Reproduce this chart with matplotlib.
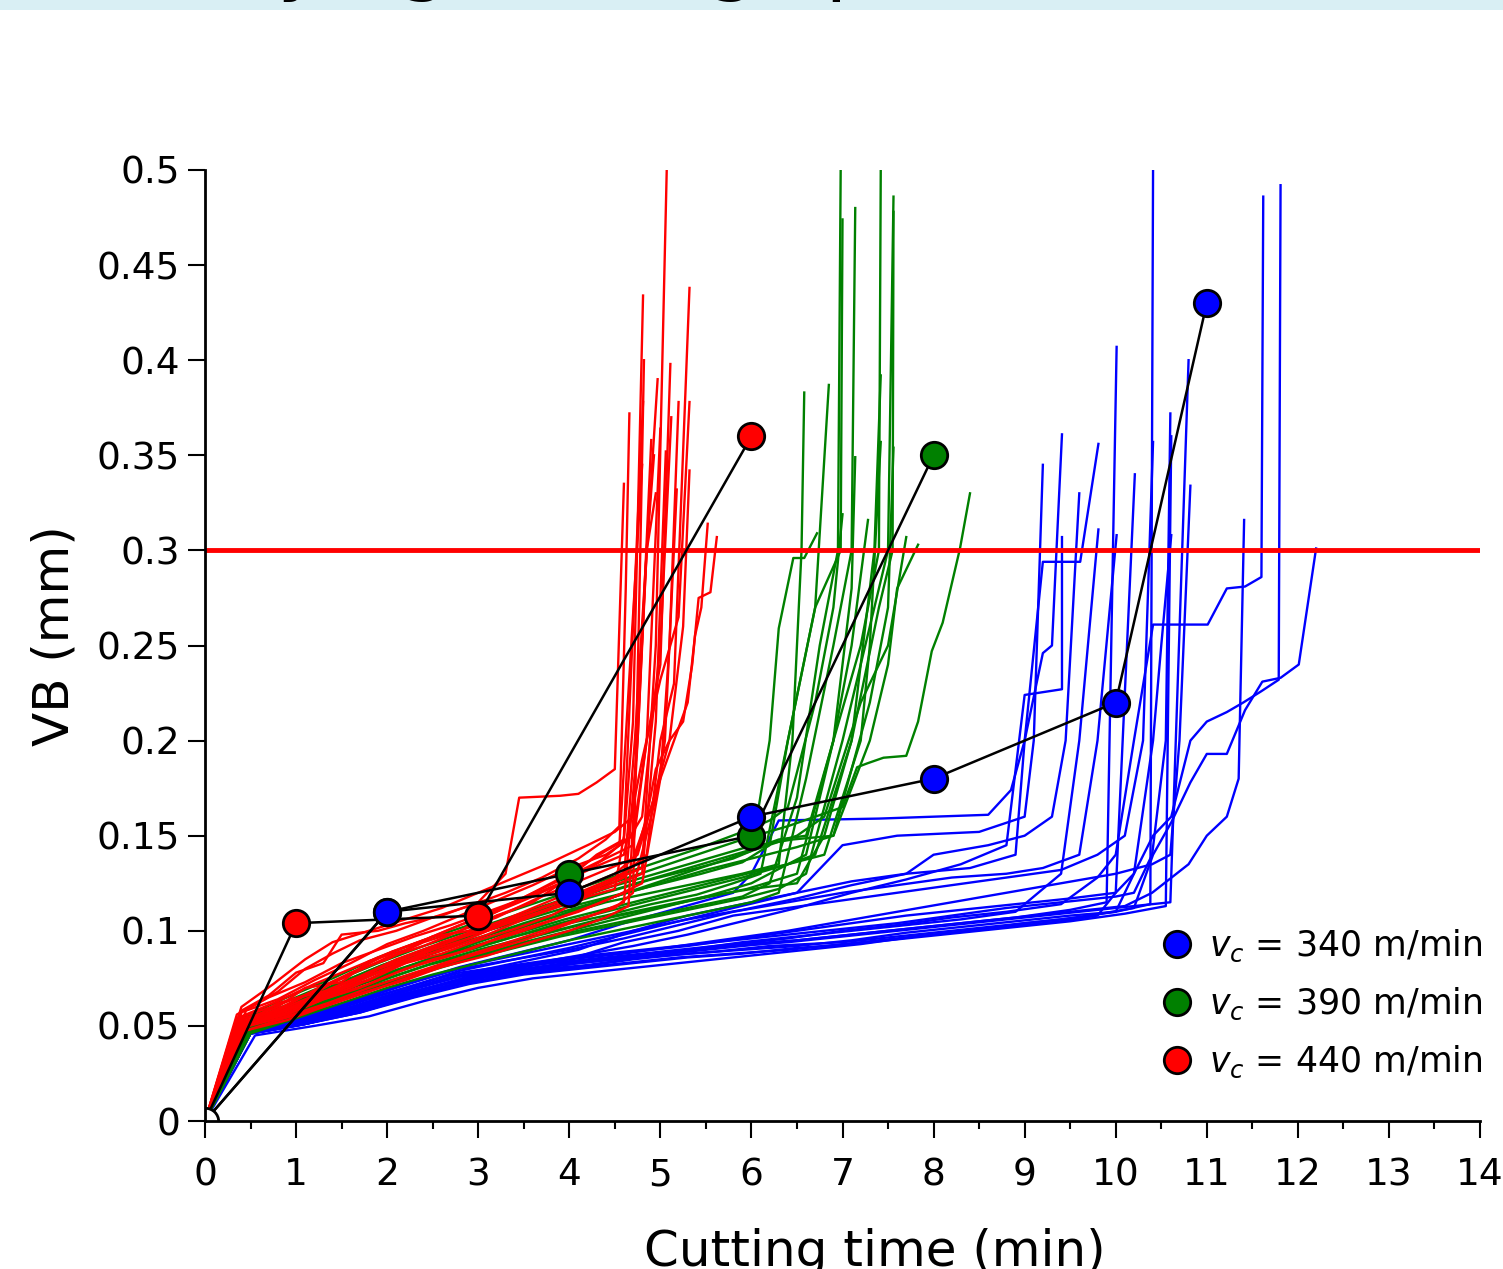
import matplotlib
matplotlib.use("Agg")
import matplotlib.pyplot as plt
from matplotlib.lines import Line2D
from matplotlib.patches import Rectangle

plt.rcParams['font.family'] = 'DejaVu Sans'
plt.rcParams['mathtext.fontset'] = 'dejavusans'

# Individual simulated wear trajectories, (time [min], VB [mm])
blue_paths = [
    [(0, 0), (0.5, 0.046), (1.1, 0.051), (1.7, 0.058), (2.3, 0.068), (2.9, 0.075), (3.5, 0.079), (4.2, 0.082), (4.8, 0.086), (5.6, 0.089), (6.2, 0.092), (7.0, 0.094), (7.6, 0.097), (8.2, 0.1), (8.8, 0.103), (9.4, 0.106), (10.0, 0.11), (10.38, 0.114), (10.41, 0.5)],
    [(0, 0), (0.45, 0.048), (1.0, 0.053), (1.6, 0.06), (2.2, 0.069), (2.8, 0.077), (3.4, 0.081), (4.0, 0.084), (4.6, 0.087), (5.2, 0.09), (5.8, 0.093), (6.4, 0.096), (7.0, 0.1), (7.6, 0.103), (8.2, 0.107), (8.8, 0.11), (9.4, 0.114), (9.8, 0.128), (10.0, 0.14), (10.2, 0.2), (10.41, 0.261), (11.01, 0.261), (11.22, 0.28), (11.42, 0.281), (11.6, 0.286), (11.62, 0.486)],
    [(0, 0), (0.5, 0.047), (1.1, 0.052), (1.7, 0.057), (2.3, 0.066), (2.9, 0.073), (3.5, 0.078), (4.1, 0.081), (4.7, 0.085), (5.3, 0.088), (5.9, 0.09), (6.5, 0.092), (7.1, 0.095), (7.7, 0.099), (8.3, 0.102), (8.9, 0.105), (9.5, 0.108), (10.0, 0.11), (10.2, 0.13), (10.41, 0.15), (10.61, 0.16), (10.82, 0.2), (11.0, 0.21), (11.22, 0.215), (11.4, 0.22), (11.6, 0.226), (11.79, 0.232), (11.81, 0.492)],
    [(0, 0), (0.55, 0.045), (1.2, 0.05), (1.8, 0.055), (2.4, 0.063), (3.0, 0.07), (3.6, 0.075), (4.2, 0.078), (4.8, 0.081), (5.4, 0.084), (6.0, 0.087), (6.6, 0.09), (7.2, 0.093), (7.8, 0.097), (8.4, 0.1), (9.0, 0.104), (9.6, 0.107), (10.2, 0.112), (10.41, 0.14), (10.61, 0.157), (10.82, 0.178), (11.0, 0.193), (11.22, 0.193), (11.42, 0.216), (11.61, 0.231), (11.81, 0.233), (12.01, 0.24), (12.2, 0.301)],
    [(0, 0), (0.5, 0.047), (1.0, 0.052), (1.6, 0.059), (2.2, 0.067), (2.8, 0.074), (3.4, 0.079), (4.0, 0.083), (4.6, 0.086), (5.2, 0.089), (5.8, 0.092), (6.4, 0.094), (7.0, 0.097), (7.6, 0.1), (8.2, 0.103), (8.8, 0.106), (9.4, 0.109), (10.0, 0.112), (10.6, 0.115), (10.8, 0.4)],
    [(0, 0), (0.45, 0.049), (1.0, 0.054), (1.6, 0.062), (2.2, 0.07), (2.8, 0.078), (3.4, 0.082), (4.0, 0.086), (4.6, 0.089), (5.2, 0.092), (5.8, 0.095), (6.4, 0.098), (7.0, 0.101), (7.6, 0.104), (8.2, 0.108), (8.8, 0.112), (9.4, 0.115), (10.0, 0.118), (10.2, 0.12), (10.4, 0.14), (10.55, 0.2), (10.6, 0.372)],
    [(0, 0), (0.5, 0.046), (1.1, 0.051), (1.7, 0.057), (2.3, 0.065), (2.9, 0.072), (3.5, 0.077), (4.1, 0.08), (4.7, 0.083), (5.3, 0.086), (5.9, 0.088), (6.5, 0.091), (7.1, 0.093), (7.7, 0.096), (8.3, 0.099), (8.9, 0.102), (9.5, 0.105), (10.1, 0.109), (10.55, 0.113), (10.61, 0.36)],
    [(0, 0), (0.5, 0.048), (1.1, 0.053), (1.7, 0.061), (2.3, 0.07), (2.9, 0.077), (3.5, 0.082), (4.1, 0.086), (4.7, 0.089), (5.3, 0.092), (5.9, 0.096), (6.5, 0.1), (7.1, 0.104), (7.7, 0.108), (8.3, 0.111), (8.9, 0.114), (9.5, 0.117), (10.0, 0.12), (10.2, 0.13), (10.41, 0.2), (10.5, 0.25), (10.61, 0.308)],
    [(0, 0), (0.45, 0.047), (1.0, 0.052), (1.6, 0.058), (2.2, 0.067), (2.8, 0.074), (3.4, 0.08), (4.0, 0.085), (4.6, 0.094), (5.2, 0.1), (5.8, 0.108), (6.4, 0.112), (7.0, 0.116), (7.6, 0.12), (8.2, 0.124), (8.8, 0.128), (9.4, 0.132), (9.8, 0.14), (10.1, 0.15), (10.3, 0.2), (10.41, 0.357)],
    [(0, 0), (0.5, 0.046), (1.0, 0.05), (1.6, 0.056), (2.2, 0.064), (2.8, 0.072), (3.4, 0.077), (4.0, 0.08), (4.6, 0.083), (5.2, 0.086), (5.8, 0.088), (6.4, 0.09), (7.0, 0.093), (7.6, 0.096), (8.2, 0.099), (8.8, 0.102), (9.4, 0.105), (9.8, 0.108), (10.0, 0.12), (10.21, 0.34)],
    [(0, 0), (0.5, 0.048), (1.1, 0.052), (1.7, 0.06), (2.3, 0.068), (2.9, 0.076), (3.5, 0.08), (4.1, 0.084), (4.7, 0.087), (5.3, 0.09), (5.9, 0.093), (6.5, 0.095), (7.1, 0.098), (7.7, 0.101), (8.3, 0.104), (8.9, 0.107), (9.5, 0.111), (9.9, 0.115), (10.01, 0.407)],
    [(0, 0), (0.45, 0.049), (1.0, 0.055), (1.6, 0.063), (2.2, 0.072), (2.8, 0.08), (3.4, 0.085), (4.0, 0.09), (4.6, 0.096), (5.2, 0.103), (5.8, 0.11), (6.4, 0.115), (7.0, 0.12), (7.6, 0.124), (8.2, 0.128), (8.8, 0.13), (9.2, 0.133), (9.6, 0.14), (9.8, 0.2), (10.01, 0.308)],
    [(0, 0), (0.5, 0.047), (1.1, 0.053), (1.7, 0.061), (2.3, 0.07), (2.9, 0.078), (3.5, 0.084), (4.1, 0.09), (4.7, 0.1), (5.3, 0.108), (5.9, 0.114), (6.5, 0.12), (7.1, 0.126), (7.7, 0.13), (8.4, 0.133), (8.9, 0.14), (9.0, 0.2), (9.2, 0.294), (9.61, 0.294), (9.81, 0.356)],
    [(0, 0), (0.5, 0.046), (1.1, 0.051), (1.7, 0.058), (2.3, 0.066), (2.9, 0.074), (3.5, 0.079), (4.1, 0.083), (4.7, 0.086), (5.3, 0.09), (5.9, 0.094), (6.5, 0.097), (7.1, 0.1), (7.7, 0.103), (8.3, 0.106), (8.9, 0.11), (9.4, 0.13), (9.6, 0.2), (9.81, 0.311)],
    [(0, 0), (0.45, 0.048), (1.0, 0.054), (1.6, 0.062), (2.2, 0.072), (2.8, 0.081), (3.4, 0.088), (4.0, 0.095), (4.6, 0.104), (5.2, 0.112), (5.8, 0.12), (6.0, 0.13), (6.3, 0.158), (7.4, 0.159), (8.6, 0.161), (8.85, 0.174), (9.0, 0.2), (9.2, 0.246), (9.3, 0.25), (9.41, 0.361)],
    [(0, 0), (0.5, 0.047), (1.1, 0.052), (1.7, 0.059), (2.3, 0.068), (2.9, 0.076), (3.5, 0.082), (4.1, 0.087), (4.7, 0.092), (5.3, 0.098), (5.9, 0.105), (6.5, 0.112), (7.1, 0.12), (7.7, 0.127), (8.3, 0.135), (8.8, 0.145), (9.0, 0.224), (9.41, 0.227), (9.41, 0.307)],
    [(0, 0), (0.5, 0.048), (1.0, 0.053), (1.6, 0.061), (2.2, 0.07), (2.8, 0.079), (3.4, 0.085), (4.0, 0.091), (4.6, 0.098), (5.2, 0.105), (5.8, 0.112), (6.5, 0.12), (7.0, 0.145), (7.6, 0.15), (8.5, 0.152), (9.0, 0.16), (9.1, 0.2), (9.2, 0.345)],
    [(0, 0), (0.5, 0.046), (1.1, 0.051), (1.7, 0.058), (2.3, 0.067), (2.9, 0.074), (3.5, 0.079), (4.1, 0.083), (4.7, 0.086), (5.3, 0.089), (5.9, 0.092), (6.5, 0.095), (7.1, 0.098), (7.7, 0.101), (8.3, 0.104), (8.9, 0.107), (9.5, 0.11), (10.1, 0.113), (10.4, 0.12), (10.8, 0.135), (11.0, 0.15), (11.22, 0.16), (11.35, 0.18), (11.41, 0.316)],
    [(0, 0), (0.45, 0.047), (1.0, 0.052), (1.6, 0.059), (2.2, 0.068), (2.8, 0.076), (3.4, 0.081), (4.0, 0.085), (4.6, 0.088), (5.2, 0.092), (5.8, 0.096), (6.4, 0.1), (7.0, 0.105), (7.6, 0.11), (8.2, 0.115), (8.8, 0.12), (9.4, 0.125), (10.0, 0.13), (10.4, 0.135), (10.6, 0.14), (10.7, 0.2), (10.82, 0.334)],
    [(0, 0), (0.5, 0.049), (1.1, 0.055), (1.7, 0.064), (2.3, 0.073), (2.9, 0.082), (3.5, 0.088), (4.1, 0.094), (4.7, 0.1), (5.3, 0.106), (5.9, 0.111), (6.5, 0.117), (7.1, 0.124), (7.7, 0.13), (8.0, 0.14), (8.6, 0.145), (9.0, 0.15), (9.3, 0.16), (9.45, 0.2), (9.6, 0.33)],
]

green_paths = [
    [(0, 0), (0.45, 0.048), (0.9, 0.056), (1.4, 0.064), (1.9, 0.072), (2.4, 0.079), (2.9, 0.086), (3.4, 0.092), (3.9, 0.098), (4.4, 0.103), (4.9, 0.108), (5.4, 0.113), (5.9, 0.118), (6.2, 0.125), (6.5, 0.17), (6.75, 0.25), (6.95, 0.3), (6.98, 0.5)],
    [(0, 0), (0.4, 0.05), (0.9, 0.058), (1.4, 0.067), (1.9, 0.076), (2.4, 0.084), (2.9, 0.09), (3.4, 0.097), (3.9, 0.103), (4.4, 0.108), (4.9, 0.114), (5.4, 0.119), (5.8, 0.125), (6.1, 0.13), (6.4, 0.2), (6.7, 0.27), (6.98, 0.3), (7.0, 0.474)],
    [(0, 0), (0.5, 0.046), (1.0, 0.054), (1.5, 0.062), (2.0, 0.07), (2.5, 0.077), (3.0, 0.083), (3.5, 0.089), (4.0, 0.095), (4.5, 0.1), (5.0, 0.105), (5.5, 0.11), (6.0, 0.115), (6.3, 0.12), (6.6, 0.18), (6.9, 0.25), (7.1, 0.3), (7.14, 0.48)],
    [(0, 0), (0.45, 0.049), (0.95, 0.057), (1.45, 0.066), (1.95, 0.074), (2.45, 0.082), (2.95, 0.088), (3.45, 0.095), (3.95, 0.101), (4.45, 0.107), (4.95, 0.112), (5.45, 0.117), (5.95, 0.122), (6.5, 0.13), (6.9, 0.2), (7.2, 0.25), (7.4, 0.3), (7.42, 0.5)],
    [(0, 0), (0.4, 0.047), (0.9, 0.055), (1.4, 0.063), (1.9, 0.071), (2.4, 0.078), (2.9, 0.085), (3.4, 0.091), (3.9, 0.097), (4.4, 0.102), (4.9, 0.107), (5.4, 0.112), (5.9, 0.117), (6.3, 0.122), (6.6, 0.13), (7.0, 0.2), (7.3, 0.26), (7.5, 0.3), (7.56, 0.486)],
    [(0, 0), (0.5, 0.048), (1.0, 0.057), (1.5, 0.066), (2.0, 0.075), (2.5, 0.083), (3.0, 0.09), (3.5, 0.096), (4.0, 0.102), (4.5, 0.108), (5.0, 0.113), (5.5, 0.118), (6.0, 0.122), (6.5, 0.125), (6.8, 0.15), (7.1, 0.2), (7.4, 0.27), (7.55, 0.3), (7.56, 0.478)],
    [(0, 0), (0.4, 0.051), (0.9, 0.06), (1.4, 0.07), (1.9, 0.079), (2.4, 0.088), (2.9, 0.095), (3.4, 0.102), (3.9, 0.108), (4.4, 0.115), (4.9, 0.12), (5.4, 0.125), (5.9, 0.13), (6.3, 0.135), (6.45, 0.2), (6.55, 0.3), (6.58, 0.383)],
    [(0, 0), (0.45, 0.052), (0.95, 0.062), (1.45, 0.072), (1.95, 0.082), (2.45, 0.09), (2.95, 0.098), (3.45, 0.105), (3.95, 0.112), (4.45, 0.118), (4.95, 0.124), (5.45, 0.13), (5.9, 0.136), (6.2, 0.145), (6.4, 0.2), (6.7, 0.27), (6.85, 0.387)],
    [(0, 0), (0.5, 0.047), (1.0, 0.055), (1.5, 0.064), (2.0, 0.072), (2.5, 0.08), (3.0, 0.087), (3.5, 0.094), (4.0, 0.1), (4.5, 0.106), (5.0, 0.112), (5.5, 0.118), (6.0, 0.125), (6.6, 0.14), (6.9, 0.2), (7.1, 0.28), (7.14, 0.349)],
    [(0, 0), (0.4, 0.049), (0.9, 0.058), (1.4, 0.067), (1.9, 0.075), (2.4, 0.083), (2.9, 0.09), (3.4, 0.097), (3.9, 0.104), (4.4, 0.11), (4.9, 0.116), (5.4, 0.122), (5.9, 0.128), (6.4, 0.135), (6.7, 0.14), (7.1, 0.2), (7.35, 0.3), (7.42, 0.392)],
    [(0, 0), (0.45, 0.05), (0.95, 0.059), (1.45, 0.068), (1.95, 0.077), (2.45, 0.085), (2.95, 0.092), (3.45, 0.099), (3.95, 0.106), (4.45, 0.112), (4.95, 0.118), (5.45, 0.124), (5.95, 0.13), (6.4, 0.135), (6.8, 0.14), (7.2, 0.2), (7.3, 0.25), (7.42, 0.357)],
    [(0, 0), (0.5, 0.05), (1.0, 0.06), (1.5, 0.07), (2.0, 0.08), (2.5, 0.088), (3.0, 0.096), (3.5, 0.104), (4.0, 0.111), (4.5, 0.118), (5.0, 0.125), (5.5, 0.132), (6.0, 0.138), (6.5, 0.144), (6.9, 0.15), (7.3, 0.22), (7.5, 0.27), (7.56, 0.354)],
    [(0, 0), (0.4, 0.053), (0.9, 0.063), (1.4, 0.073), (1.9, 0.083), (2.4, 0.092), (2.9, 0.1), (3.4, 0.108), (3.9, 0.116), (4.4, 0.124), (4.9, 0.132), (5.4, 0.14), (5.9, 0.148), (6.4, 0.155), (6.7, 0.16), (7.0, 0.165), (7.16, 0.186), (7.27, 0.188), (7.45, 0.191), (7.7, 0.192), (7.83, 0.21), (7.98, 0.247), (8.1, 0.262), (8.29, 0.301), (8.4, 0.33)],
    [(0, 0), (0.45, 0.051), (0.95, 0.061), (1.45, 0.071), (1.95, 0.081), (2.45, 0.09), (2.95, 0.098), (3.45, 0.106), (3.95, 0.114), (4.45, 0.121), (4.95, 0.128), (5.45, 0.135), (5.95, 0.142), (6.3, 0.148), (6.6, 0.15), (6.9, 0.2), (7.1, 0.25), (7.28, 0.316)],
    [(0, 0), (0.4, 0.054), (0.9, 0.065), (1.4, 0.075), (1.9, 0.086), (2.4, 0.095), (2.9, 0.103), (3.4, 0.111), (3.9, 0.119), (4.4, 0.127), (4.9, 0.135), (5.4, 0.143), (5.9, 0.152), (6.2, 0.158), (6.4, 0.165), (6.7, 0.22), (6.9, 0.27), (7.0, 0.319)],
    [(0, 0), (0.5, 0.049), (1.0, 0.058), (1.5, 0.068), (2.0, 0.077), (2.5, 0.086), (3.0, 0.094), (3.5, 0.102), (4.0, 0.11), (4.5, 0.118), (5.0, 0.126), (5.5, 0.134), (6.0, 0.142), (6.5, 0.15), (6.8, 0.16), (7.2, 0.22), (7.5, 0.25), (7.7, 0.307)],
    [(0, 0), (0.45, 0.052), (0.95, 0.062), (1.45, 0.072), (1.95, 0.082), (2.45, 0.091), (2.95, 0.099), (3.45, 0.107), (3.95, 0.115), (4.45, 0.123), (4.95, 0.13), (5.45, 0.137), (5.95, 0.144), (6.45, 0.148), (6.9, 0.15), (7.3, 0.2), (7.5, 0.24), (7.6, 0.28), (7.83, 0.303)],
    [(0, 0), (0.4, 0.05), (0.9, 0.06), (1.4, 0.07), (1.9, 0.08), (2.4, 0.089), (2.9, 0.097), (3.4, 0.105), (3.9, 0.113), (4.4, 0.12), (4.9, 0.127), (5.4, 0.133), (5.8, 0.138), (6.0, 0.142), (6.2, 0.2), (6.3, 0.259), (6.46, 0.296), (6.58, 0.296), (6.72, 0.309)],
]

red_paths = [
    [(0, 0), (0.4, 0.058), (0.7, 0.066), (1.0, 0.078), (1.3, 0.083), (1.5, 0.098), (1.9, 0.1), (2.2, 0.104), (2.6, 0.108), (3.0, 0.115), (3.3, 0.13), (3.45, 0.17), (3.9, 0.171), (4.1, 0.172), (4.3, 0.178), (4.5, 0.185), (4.6, 0.335)],
    [(0, 0), (0.35, 0.052), (0.8, 0.06), (1.1, 0.07), (1.5, 0.073), (1.8, 0.084), (2.2, 0.09), (2.5, 0.097), (2.9, 0.1), (3.2, 0.108), (3.6, 0.115), (4.0, 0.128), (4.3, 0.14), (4.6, 0.148), (4.7, 0.21), (4.81, 0.434)],
    [(0, 0), (0.45, 0.05), (0.9, 0.057), (1.2, 0.063), (1.6, 0.07), (2.0, 0.079), (2.3, 0.085), (2.7, 0.092), (3.1, 0.1), (3.5, 0.107), (3.8, 0.112), (4.2, 0.12), (4.5, 0.127), (4.8, 0.133), (4.95, 0.25), (5.07, 0.5)],
    [(0, 0), (0.4, 0.054), (0.8, 0.058), (1.1, 0.066), (1.5, 0.07), (1.9, 0.08), (2.3, 0.086), (2.6, 0.094), (3.0, 0.099), (3.4, 0.107), (3.8, 0.114), (4.2, 0.122), (4.6, 0.13), (4.85, 0.14), (5.0, 0.2), (5.15, 0.23), (5.32, 0.438)],
    [(0, 0), (0.3, 0.047), (0.7, 0.056), (1.1, 0.061), (1.4, 0.068), (1.8, 0.074), (2.2, 0.083), (2.6, 0.088), (3.0, 0.095), (3.4, 0.101), (3.8, 0.108), (4.2, 0.118), (4.5, 0.122), (4.6, 0.15), (4.7, 0.26), (4.81, 0.378)],
    [(0, 0), (0.4, 0.05), (0.8, 0.062), (1.2, 0.067), (1.6, 0.078), (2.0, 0.085), (2.4, 0.094), (2.8, 0.1), (3.2, 0.11), (3.6, 0.118), (4.0, 0.127), (4.4, 0.138), (4.7, 0.145), (4.85, 0.2), (5.0, 0.24), (5.11, 0.398)],
    [(0, 0), (0.45, 0.052), (0.9, 0.056), (1.3, 0.064), (1.7, 0.07), (2.1, 0.078), (2.5, 0.085), (2.9, 0.09), (3.3, 0.098), (3.7, 0.104), (4.1, 0.11), (4.5, 0.118), (4.8, 0.125), (5.0, 0.18), (5.1, 0.25), (5.2, 0.378)],
    [(0, 0), (0.35, 0.056), (0.7, 0.065), (1.1, 0.073), (1.5, 0.083), (1.9, 0.09), (2.3, 0.097), (2.7, 0.103), (3.1, 0.11), (3.5, 0.117), (3.9, 0.125), (4.3, 0.134), (4.6, 0.14), (4.8, 0.19), (5.0, 0.232), (5.2, 0.265), (5.32, 0.378)],
    [(0, 0), (0.4, 0.047), (0.9, 0.053), (1.3, 0.06), (1.8, 0.068), (2.2, 0.075), (2.6, 0.082), (3.0, 0.088), (3.5, 0.095), (3.9, 0.102), (4.3, 0.109), (4.6, 0.115), (4.75, 0.2), (4.9, 0.358)],
    [(0, 0), (0.4, 0.055), (0.8, 0.063), (1.2, 0.072), (1.6, 0.08), (2.0, 0.088), (2.4, 0.095), (2.8, 0.103), (3.2, 0.11), (3.6, 0.12), (4.0, 0.13), (4.4, 0.142), (4.7, 0.15), (4.85, 0.2), (5.0, 0.364)],
    [(0, 0), (0.45, 0.05), (0.9, 0.058), (1.3, 0.066), (1.7, 0.075), (2.1, 0.082), (2.5, 0.09), (2.9, 0.096), (3.3, 0.104), (3.7, 0.11), (4.1, 0.118), (4.5, 0.124), (4.8, 0.13), (4.95, 0.21), (5.06, 0.352)],
    [(0, 0), (0.35, 0.054), (0.8, 0.061), (1.2, 0.068), (1.6, 0.077), (2.0, 0.086), (2.4, 0.092), (2.8, 0.1), (3.2, 0.107), (3.6, 0.116), (4.0, 0.124), (4.4, 0.132), (4.7, 0.138), (4.9, 0.165), (5.1, 0.2), (5.25, 0.26), (5.32, 0.342)],
    [(0, 0), (0.4, 0.05), (0.9, 0.056), (1.3, 0.064), (1.8, 0.072), (2.2, 0.08), (2.7, 0.087), (3.1, 0.094), (3.5, 0.1), (3.9, 0.107), (4.3, 0.114), (4.7, 0.122), (4.95, 0.17), (5.05, 0.2), (5.18, 0.332)],
    [(0, 0), (0.4, 0.052), (0.9, 0.06), (1.3, 0.068), (1.7, 0.076), (2.1, 0.085), (2.5, 0.092), (2.9, 0.099), (3.3, 0.106), (3.7, 0.114), (4.1, 0.122), (4.5, 0.13), (4.75, 0.14), (4.9, 0.165), (5.0, 0.18), (5.15, 0.2), (5.3, 0.22), (5.38, 0.255), (5.45, 0.27), (5.52, 0.314)],
    [(0, 0), (0.35, 0.05), (0.85, 0.058), (1.25, 0.066), (1.65, 0.075), (2.05, 0.083), (2.45, 0.09), (2.85, 0.097), (3.25, 0.104), (3.65, 0.111), (4.05, 0.118), (4.45, 0.126), (4.7, 0.134), (4.85, 0.16), (4.95, 0.185), (5.1, 0.2), (5.25, 0.21), (5.35, 0.24), (5.42, 0.275), (5.55, 0.278), (5.62, 0.307)],
    [(0, 0), (0.4, 0.057), (0.8, 0.068), (1.1, 0.08), (1.4, 0.088), (1.7, 0.095), (2.1, 0.1), (2.5, 0.107), (2.9, 0.113), (3.3, 0.12), (3.7, 0.128), (4.1, 0.138), (4.4, 0.148), (4.55, 0.155), (4.62, 0.28), (4.66, 0.372)],
    [(0, 0), (0.45, 0.05), (0.9, 0.059), (1.4, 0.067), (1.8, 0.076), (2.2, 0.084), (2.7, 0.091), (3.1, 0.098), (3.5, 0.106), (3.9, 0.113), (4.3, 0.121), (4.6, 0.128), (4.72, 0.2), (4.85, 0.3), (4.93, 0.35)],
    [(0, 0), (0.4, 0.06), (0.75, 0.072), (1.1, 0.085), (1.4, 0.094), (1.8, 0.1), (2.2, 0.106), (2.6, 0.112), (3.0, 0.12), (3.4, 0.128), (3.8, 0.136), (4.2, 0.145), (4.5, 0.152), (4.7, 0.16), (4.85, 0.3), (4.97, 0.39)],
    [(0, 0), (0.35, 0.046), (0.8, 0.053), (1.3, 0.06), (1.7, 0.067), (2.2, 0.074), (2.6, 0.081), (3.1, 0.087), (3.5, 0.093), (4.0, 0.1), (4.4, 0.107), (4.65, 0.113), (4.75, 0.2), (4.85, 0.3), (4.95, 0.33)],
    [(0, 0), (0.4, 0.051), (0.85, 0.06), (1.25, 0.07), (1.65, 0.079), (2.05, 0.089), (2.45, 0.096), (2.85, 0.104), (3.25, 0.112), (3.65, 0.121), (4.05, 0.13), (4.35, 0.137), (4.55, 0.145), (4.68, 0.25), (4.8, 0.345)],
    [(0, 0), (0.45, 0.058), (0.8, 0.064), (1.2, 0.074), (1.6, 0.083), (2.0, 0.093), (2.4, 0.1), (2.8, 0.108), (3.2, 0.116), (3.6, 0.124), (4.0, 0.133), (4.4, 0.14), (4.65, 0.148), (4.8, 0.16), (5.0, 0.25), (5.12, 0.37)],
    [(0, 0), (0.4, 0.049), (0.9, 0.055), (1.35, 0.062), (1.8, 0.07), (2.3, 0.078), (2.75, 0.085), (3.2, 0.092), (3.65, 0.099), (4.1, 0.106), (4.5, 0.112), (4.7, 0.12), (4.78, 0.3), (4.82, 0.4)],
]

# Measured flank wear at inspection times
blue_t = [0, 2, 4, 6, 8, 10, 11]
blue_vb = [0, 0.11, 0.12, 0.16, 0.18, 0.22, 0.43]
green_t = [0, 2, 4, 6, 8]
green_vb = [0, 0.11, 0.13, 0.15, 0.35]
red_t = [0, 1, 3, 6]
red_vb = [0, 0.104, 0.108, 0.36]

vb_limit = 0.3
speed_labels = [r'$v_c$ = 340 m/min', r'$v_c$ = 390 m/min', r'$v_c$ = 440 m/min']
speed_colors = ['blue', 'green', 'red']

W, H = 1503, 1269
fig = plt.figure(figsize=(W / 100, H / 100), dpi=100)

# strip of the slide heading above the plot
fig.patches.append(Rectangle((0, 1 - 10 / H), 1, 10 / H, transform=fig.transFigure,
                             facecolor='#d9eff4', edgecolor='none', zorder=0))
fig.text(146 / W, 1 + 15 / H, 'Varying cutting speed, vc', fontsize=58,
         ha='left', va='baseline')

ax = fig.add_axes([205 / W, 1 - 1121 / H, 1275 / W, 951 / H])

for paths, color in [(blue_paths, 'blue'), (green_paths, 'green'), (red_paths, 'red')]:
    for p in paths:
        ax.plot([q[0] for q in p], [q[1] for q in p], color=color, lw=1.7, zorder=2)

ax.axhline(vb_limit, color='red', lw=3.5, zorder=3)

# black lines joining the measurements
for t, vb in [(red_t, red_vb), (green_t, green_vb), (blue_t, blue_vb)]:
    ax.plot(t, vb, color='black', lw=1.8, zorder=4)
for t, vb, c in [(red_t, red_vb, 'red'), (green_t, green_vb, 'green'), (blue_t, blue_vb, 'blue')]:
    ax.plot(t[1:], vb[1:], 'o', ms=19, mfc=c, mec='black', mew=2, zorder=5)
ax.plot(blue_t[0], blue_vb[0], 'o', ms=19, mfc='white', mec='black', mew=2, zorder=5)

ax.set_xlim(0, 14)
ax.set_ylim(0, 0.5)
ax.set_xticks(range(15))
ax.set_xticks([i + 0.5 for i in range(14)], minor=True)
yt = [i * 0.05 for i in range(11)]
ax.set_yticks(yt)
ax.set_yticklabels([f'{v:g}' for v in yt])

for s in ['top', 'right']:
    ax.spines[s].set_visible(False)
for s in ['left', 'bottom']:
    ax.spines[s].set_linewidth(2)
    ax.spines[s].set_zorder(7)

ax.tick_params(which='major', direction='out', length=12, width=1.5, labelsize=27, pad=6)
ax.tick_params(which='minor', direction='out', length=6, width=1.5)
ax.tick_params(axis='x', which='major', pad=14)

ax.set_xlabel('Cutting time (min)', fontsize=36)
ax.set_ylabel('VB (mm)', fontsize=36)
ax.xaxis.set_label_coords(0.5255, -0.112)
ax.yaxis.set_label_coords(-0.099, 0.51)

handles = [Line2D([], [], ls='none', marker='o', ms=19, mfc=c, mec='black', mew=2)
           for c in speed_colors]
fig.legend(handles, speed_labels, loc='upper left', bbox_to_anchor=(1160 / W, 1 - 928 / H),
           frameon=False, fontsize=25, handlelength=1.0, handletextpad=0.4,
           labelspacing=0.62, borderpad=0, borderaxespad=0)

fig.savefig('out.png', dpi=100)
